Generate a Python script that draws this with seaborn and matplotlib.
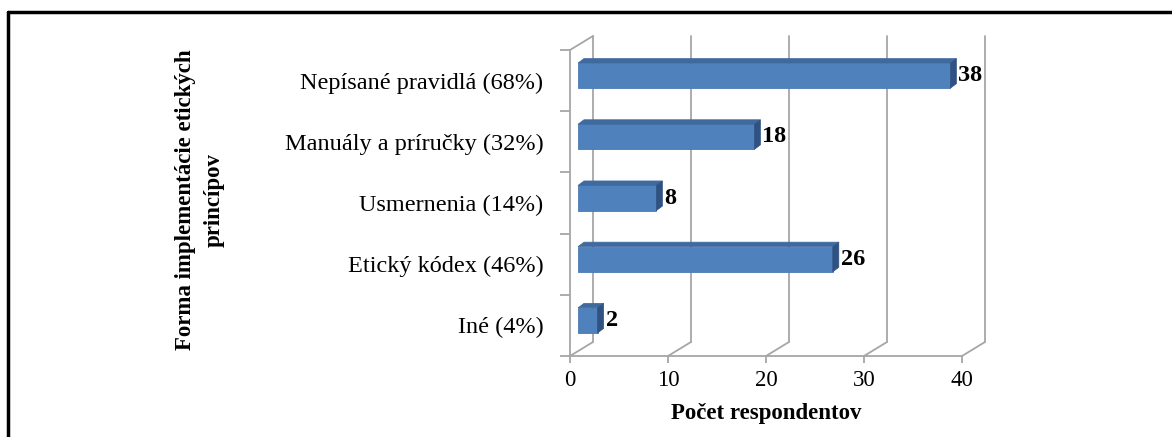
import numpy as np
import pandas as pd
import seaborn as sns
import matplotlib.pyplot as plt
from matplotlib.patches import Polygon
from matplotlib.lines import Line2D

# data
categories = ['Nepísané pravidlá (68%)', 'Manuály a príručky (32%)',
              'Usmernenia (14%)', 'Etický kódex (46%)', 'Iné (4%)']
counts = [38, 18, 8, 26, 2]
x_ticks = [0, 10, 20, 30, 40]

df = pd.DataFrame({'forma': categories, 'pocet': counts})

sns.set_style('white', {'text.color': 'black', 'xtick.color': 'black',
                        'ytick.color': 'black', 'axes.labelcolor': 'black'})
plt.rcParams['font.family'] = ['Liberation Serif', 'DejaVu Serif']

fig = plt.figure(figsize=(11.72, 4.37), dpi=100)
ax = fig.add_axes([570/1172, 81/437, 392/1172, 306/437])

ax.set_xlim(0, 40)
ax.set_ylim(4.5, -0.5)

# pixel -> data scale, for the fake 3d depth
px_x = 40 / 392.0
px_y = 5 / 306.0
DX, DY = 23 * px_x, 14 * px_y          # full depth of the box
grid_col = '#a6a6a6'

# back wall + floor lines
for t in x_ticks:
    ax.add_line(Line2D([t + DX, t + DX], [4.5 - DY, -0.5 - DY], color=grid_col,
                       lw=1.3, clip_on=False, zorder=0))
    ax.add_line(Line2D([t, t + DX], [4.5, 4.5 - DY], color=grid_col,
                       lw=1.3, clip_on=False, zorder=0))
ax.add_line(Line2D([0, DX], [-0.5, -0.5 - DY], color=grid_col, lw=1.3,
                   clip_on=False, zorder=0))

sns.barplot(data=df, x='pocet', y='forma', orient='h', color='#4f81bd',
            width=0.41, saturation=1, ax=ax, zorder=3)

# shift bars into the box and add top / side faces
fx, fy = 8 * px_x, 5 * px_y
bx, by = 6 * px_x, 4.5 * px_y
for p in ax.patches[:len(counts)]:
    p.set_x(p.get_x() + fx)
    p.set_y(p.get_y() - fy)
    p.set_edgecolor('#4a7ab3')
    p.set_linewidth(0.6)
    p.set_clip_on(False)
    x0, y0 = p.get_x(), p.get_y()
    w, h = p.get_width(), p.get_height()
    top = Polygon([(x0, y0), (x0 + w, y0), (x0 + w + bx, y0 - by), (x0 + bx, y0 - by)],
                  closed=True, facecolor='#3e6aa0', edgecolor='#3e6aa0', lw=0.5,
                  clip_on=False, zorder=3)
    side = Polygon([(x0 + w, y0), (x0 + w + bx, y0 - by), (x0 + w + bx, y0 + h - by),
                    (x0 + w, y0 + h)], closed=True, facecolor='#2f5283',
                   edgecolor='#2f5283', lw=0.5, clip_on=False, zorder=3)
    ax.add_patch(top)
    ax.add_patch(side)

for i, v in enumerate(counts):
    ax.annotate(str(v), xy=(v, i - fy), xytext=(16, 0), textcoords='offset pixels',
                ha='left', va='center', fontsize=17.5, fontweight='bold',
                color='black', zorder=5)

# front axes
for s in ['top', 'right']:
    ax.spines[s].set_visible(False)
for s in ['left', 'bottom']:
    ax.spines[s].set_color(grid_col)
    ax.spines[s].set_linewidth(1.3)

ax.set_xticks(x_ticks)
ax.tick_params(axis='x', length=5, width=1.3, color=grid_col, labelsize=16.5,
               labelcolor='black', pad=5, bottom=True)
ax.set_yticks(range(len(categories)))
ax.set_yticklabels(categories)
ax.set_yticks(np.arange(-0.5, 5, 1), minor=True)
ax.tick_params(axis='y', which='major', length=0, labelsize=17.5,
               labelcolor='black', pad=19)
ax.tick_params(axis='y', which='minor', length=7, width=1.3, color=grid_col, left=True)

ax.set_xlabel('Počet respondentov', fontsize=16.5, fontweight='bold', color='black')
ax.xaxis.set_label_coords(0.5, -0.155)
ax.set_ylabel('Forma implementácie etických\nprincípov', fontsize=16.5,
              fontweight='bold', linespacing=1.45, color='black')
ax.yaxis.label.set_va('center')
ax.yaxis.set_label_coords(-0.944, 0.51)

# frame around the picture
fig.add_artist(Line2D([8/1172, 1], [1 - 12/437] * 2, color='black', lw=2.5))
fig.add_artist(Line2D([8/1172] * 2, [0, 1 - 12/437], color='black', lw=2.5))

fig.savefig('out.png', dpi=100)
